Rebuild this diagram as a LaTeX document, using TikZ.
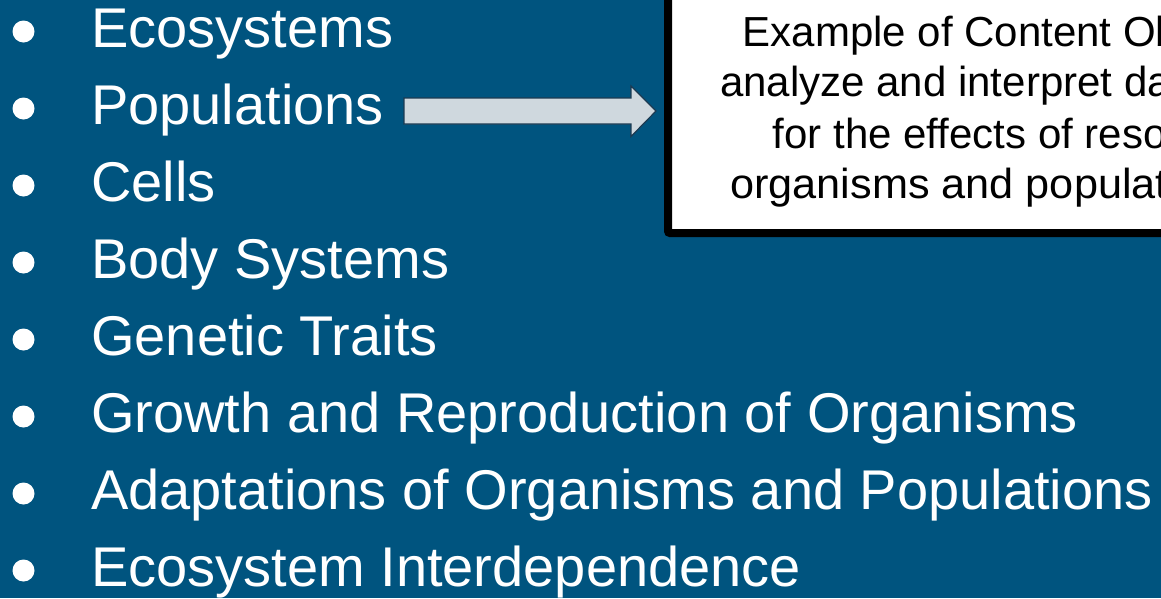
\documentclass[tikz,border=0pt]{standalone}
\usepackage{fontspec}
\setmainfont{Liberation Sans}
\definecolor{bgblue}{RGB}{0,84,127}
\definecolor{arrowfill}{RGB}{207,216,222}
\definecolor{arrowline}{RGB}{28,58,82}
\tikzset{
  listitem/.style={anchor=base west, inner sep=0pt, text=white, font=\fontsize{56}{60}\selectfont},
  bulletdot/.style={circle, fill=white, inner sep=0pt, minimum size=22pt},
  boxtext/.style={anchor=base west, inner sep=0pt, text=black, font=\fontsize{42}{50}\selectfont},
  blockarrow/.style={fill=arrowfill, draw=arrowline, line width=1.2pt, line join=miter},
  callout/.style={fill=white, draw=black, line width=8pt, rounded corners=2pt}
}
\begin{document}
\begin{tikzpicture}[x=1pt, y=-1pt]
\useasboundingbox (0,0) rectangle (1161,598);
\clip (0,0) rectangle (1161,598);
\fill[bgblue] (0,0) rectangle (1161,598);
% bullets and items
\foreach \t [count=\i] in {Ecosystems, Populations, Cells, Body Systems, Genetic Traits,
  Growth and Reproduction of Organisms, Adaptations of Organisms and Populations,
  Ecosystem Interdependence} {
  \pgfmathsetmacro{\yb}{47+77*(\i-1)}
  \node[bulletdot] (b\i) at (23.5,\yb-15.5) {};
  \node[listitem] (i\i) at (91,\yb) {\t};
}
% block arrow
\draw[blockarrow] (404,98) -- (631,98) -- (631,86) -- (656,111) -- (631,136.5) -- (631,124) -- (404,124) -- cycle;
% callout box
\draw[callout] (668,-30) rectangle (1220,233);
\node[boxtext] (t1) at (742.5,46.7) {Example of Content Ob};
\node[boxtext] (t2) at (720,96.7) {analyze and interpret da};
\node[boxtext] (t3) at (772.5,148) {for the effects of reso};
\node[boxtext, xscale=1.03, transform shape] (t4) at (730,198) {organisms and populat};
\end{tikzpicture}
\end{document}
